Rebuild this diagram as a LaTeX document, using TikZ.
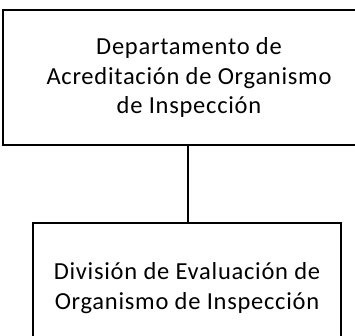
\documentclass[tikz,border=0pt]{standalone}
\usepackage{fontspec}
\setmainfont[LetterSpace=3]{Carlito}
\begin{document}
\begin{tikzpicture}[x=1pt,y=1pt,
  orgbox/.style={draw=black, line width=2.8pt, fill=white, align=center,
    font=\fontsize{24.5}{29.5}\selectfont, inner sep=0pt}]
\useasboundingbox (0,0) rectangle (355,-335);
\clip (0,0) rectangle (355,-335);
\node[orgbox, minimum width=372pt, minimum height=135pt] (top) at (189,-77.5)
  {Departamento de\\Acreditación de Organismo\\de Inspección};
\node[orgbox, minimum width=308pt, minimum height=130pt] (bot) at (187,-288)
  {División de Evaluación de\\Organismo de Inspección};
\draw[line width=2.8pt] (top.south -| 188,0) -- (bot.north -| 188,0);
\end{tikzpicture}
\end{document}
